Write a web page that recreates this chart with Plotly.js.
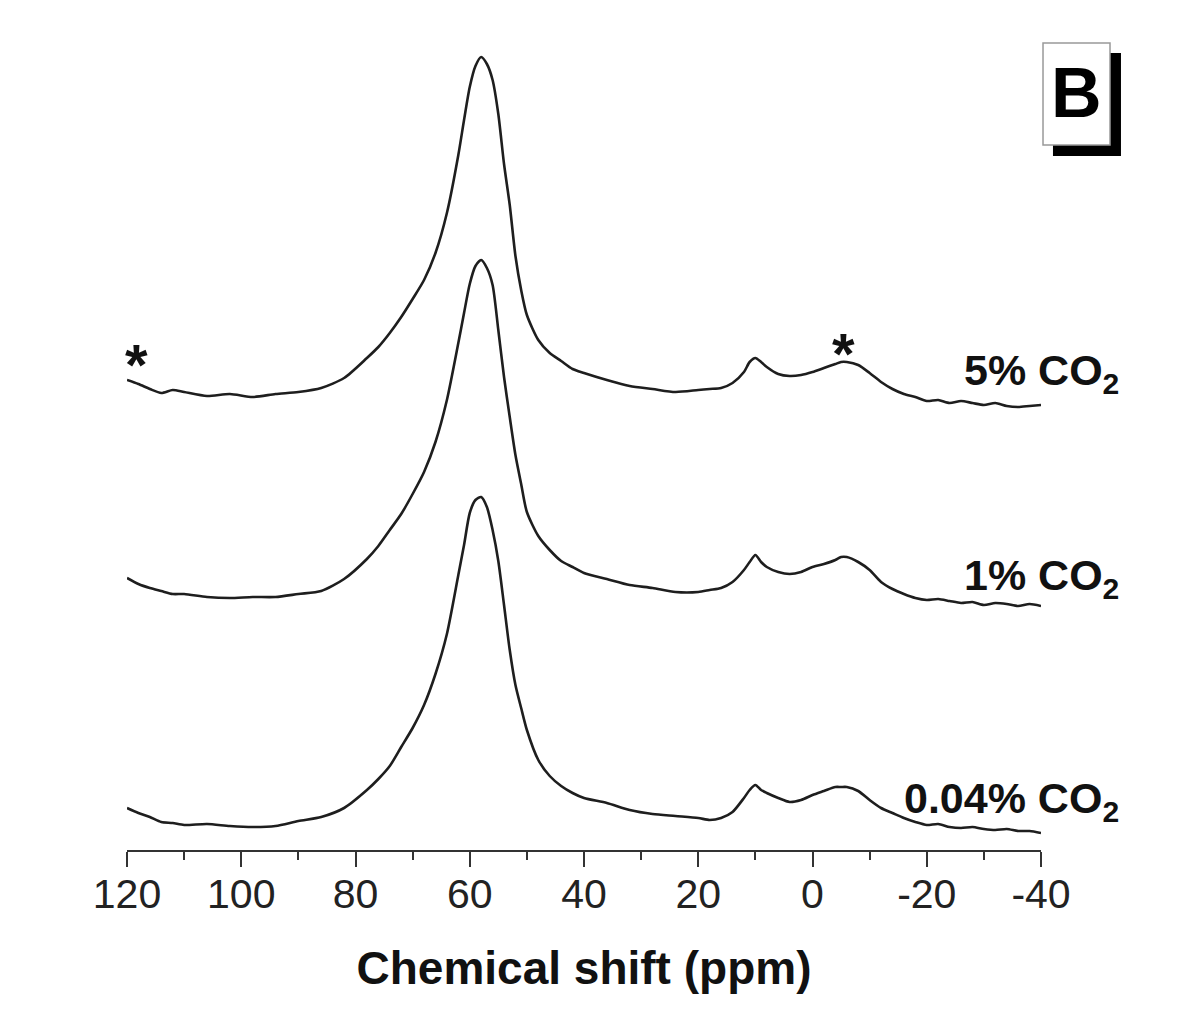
<!DOCTYPE html>
<html>
<head>
<meta charset="utf-8">
<script src="https://cdn.plot.ly/plotly-3.0.1.min.js"></script>
<style>
  html, body { margin: 0; padding: 0; background: #fff; }
  #chart { width: 1200px; height: 1027px; }
</style>
</head>
<body>
<div id="chart"></div>
<script>
// ----------------------------- Data ------------------------------------------
// chemical shift grid (ppm)
var shift = [120, 118, 116, 114, 112, 110, 106, 102, 98, 94, 90, 86, 82, 78, 76,
  74, 72, 70, 68, 66, 64, 62, 61, 60, 59, 58, 57, 56, 55, 54, 53, 52, 51, 50,
  48, 46, 44, 42, 40, 36, 32, 28, 24, 20, 18, 16, 14, 12, 11, 10, 9, 8, 6, 4,
  2, 0, -2, -4, -5, -6, -8, -10, -12, -14, -16, -18, -20, -22, -24, -26, -28,
  -30, -32, -34, -36, -38, -40];

// intensities (a.u.), each relative to its own baseline
var co2_5 = [16, 12, 7, 3, 6, 4, 0, 2, -1, 2, 4, 8, 18, 38, 49,
  63, 79, 97, 116, 143, 183, 241, 276, 309, 330, 339, 332, 316, 282, 232, 191, 140, 106, 81,
  56, 43, 35, 27, 23, 16, 10, 7, 4, 6, 7, 8, 13, 24, 34, 38, 34, 29, 22, 20,
  21, 24, 28, 32, 34, 34, 31, 23, 14, 7, 2, -1, -5, -4, -7, -5, -7,
  -9, -7, -10, -11, -10, -9];

var co2_1 = [20, 14, 10, 7, 4, 4, 1, 0, 1, 1, 4, 7, 19, 39, 52,
  68, 84, 104, 126, 156, 198, 255, 285, 314, 332, 338, 330, 313, 268, 221, 181, 143, 114, 86,
  62, 48, 37, 31, 25, 19, 13, 10, 6, 6, 8, 10, 16, 28, 36, 43, 36, 31, 26, 24,
  26, 31, 34, 38, 41, 41, 36, 28, 16, 9, 4, 0, -2, -1, -3, -5, -4,
  -7, -5, -6, -8, -6, -8];

var co2_004 = [18, 13, 9, 4, 3, 1, 2, 0, -1, 0, 5, 9, 18, 36, 47,
  60, 79, 98, 121, 152, 192, 251, 281, 313, 326, 329, 319, 296, 265, 221, 176, 141, 118, 96,
  66, 50, 40, 33, 28, 23, 16, 12, 10, 8, 6, 8, 14, 28, 36, 41, 36, 33, 28, 24,
  26, 31, 35, 39, 39, 39, 35, 26, 18, 13, 8, 4, 1, 2, -1, -2, -1,
  -3, -4, -3, -5, -5, -7];

var seriesNames = ["0.04% CO<sub>2</sub>", "1% CO<sub>2</sub>", "5% CO<sub>2</sub>"];
var offsets = [24, 252, 454];
var labelY = [49, 272, 477];

var tickVals = [120, 100, 80, 60, 40, 20, 0, -20, -40];
var tickLabels = ["120", "100", "80", "60", "40", "20", "0", "-20", "-40"];

// spinning sideband markers
var starX = [118.3, -5.5];
var starY = [486, 497];
// =============================================================================


// ----------------------------- Traces ----------------------------------------
function stackSeries (vals, offset) {
  var out = [];
  for (var i = 0; i < vals.length; i++) {
    out.push(vals[i] + offset);
  }
  return out;
}

var allSeries = [co2_004, co2_1, co2_5];
var data = [];
for (var i = 0; i < allSeries.length; i++) {
  data.push({
    x: shift,
    y: stackSeries(allSeries[i], offsets[i]),
    mode: "lines",
    line: { color: "#1e1e1e", width: 2.6, shape: "spline", smoothing: 0.7 },
    name: seriesNames[i],
    showlegend: false,
    hoverinfo: "none"
  });
}
// =============================================================================


// ----------------------------- Labels ----------------------------------------
var annotations = [];
for (var i = 0; i < seriesNames.length; i++) {
  annotations.push({
    xref: "paper", yref: "y",
    x: 1.0875, y: labelY[i],
    xanchor: "right", yanchor: "middle",
    text: "<b>" + seriesNames[i] + "</b>",
    showarrow: false,
    font: { family: "Liberation Sans, Arial, sans-serif", size: 43, color: "#111" }
  });
}
for (var i = 0; i < starX.length; i++) {
  annotations.push({
    xref: "x", yref: "y",
    x: starX[i], y: starY[i],
    xanchor: "center", yanchor: "middle",
    text: "<b>*</b>",
    showarrow: false,
    font: { family: "Liberation Sans, Arial, sans-serif", size: 58, color: "#111" }
  });
}
// panel letter
annotations.push({
  xref: "paper", yref: "paper",
  x: 1.039, y: 0.946,
  xanchor: "center", yanchor: "middle",
  text: "<b>B</b>",
  showarrow: false,
  font: { family: "Liberation Sans, Arial, sans-serif", size: 70, color: "#000" }
});
// =============================================================================


var layout = {
  width: 1200,
  height: 1027,
  margin: { l: 127, r: 159, t: 50, b: 177 },
  paper_bgcolor: "#fff",
  plot_bgcolor: "#fff",
  showlegend: false,
  xaxis: {
    range: [120, -40],
    tickmode: "array",
    tickvals: tickVals,
    ticktext: tickLabels,
    ticks: "outside",
    ticklen: 15,
    tickwidth: 2,
    tickcolor: "#333",
    ticklabelstandoff: -8,
    showline: true,
    linewidth: 2,
    linecolor: "#333",
    showgrid: false,
    zeroline: false,
    tickfont: { family: "Liberation Sans, Arial, sans-serif", size: 41, color: "#222" },
    minor: { tickmode: "linear", tick0: 0, dtick: 10, ticks: "outside", ticklen: 8, tickwidth: 2, tickcolor: "#333" },
    title: {
      text: "<b>Chemical shift (ppm)</b>",
      font: { family: "Liberation Sans, Arial, sans-serif", size: 46, color: "#111" },
      standoff: 36
    }
  },
  yaxis: {
    range: [0, 800],
    visible: false,
    fixedrange: true
  },
  shapes: [
    { type: "rect", xref: "paper", yref: "paper", x0: 1.0131, x1: 1.0875, y0: 0.8675, y1: 0.99625,
      fillcolor: "#000", line: { width: 0 } },
    { type: "rect", xref: "paper", yref: "paper", x0: 1.0022, x1: 1.0755, y0: 0.88125, y1: 1.00875,
      fillcolor: "#fff", line: { color: "#999", width: 1.5 } }
  ],
  annotations: annotations
};

Plotly.newPlot("chart", data, layout, { staticPlot: true });
</script>
</body>
</html>
